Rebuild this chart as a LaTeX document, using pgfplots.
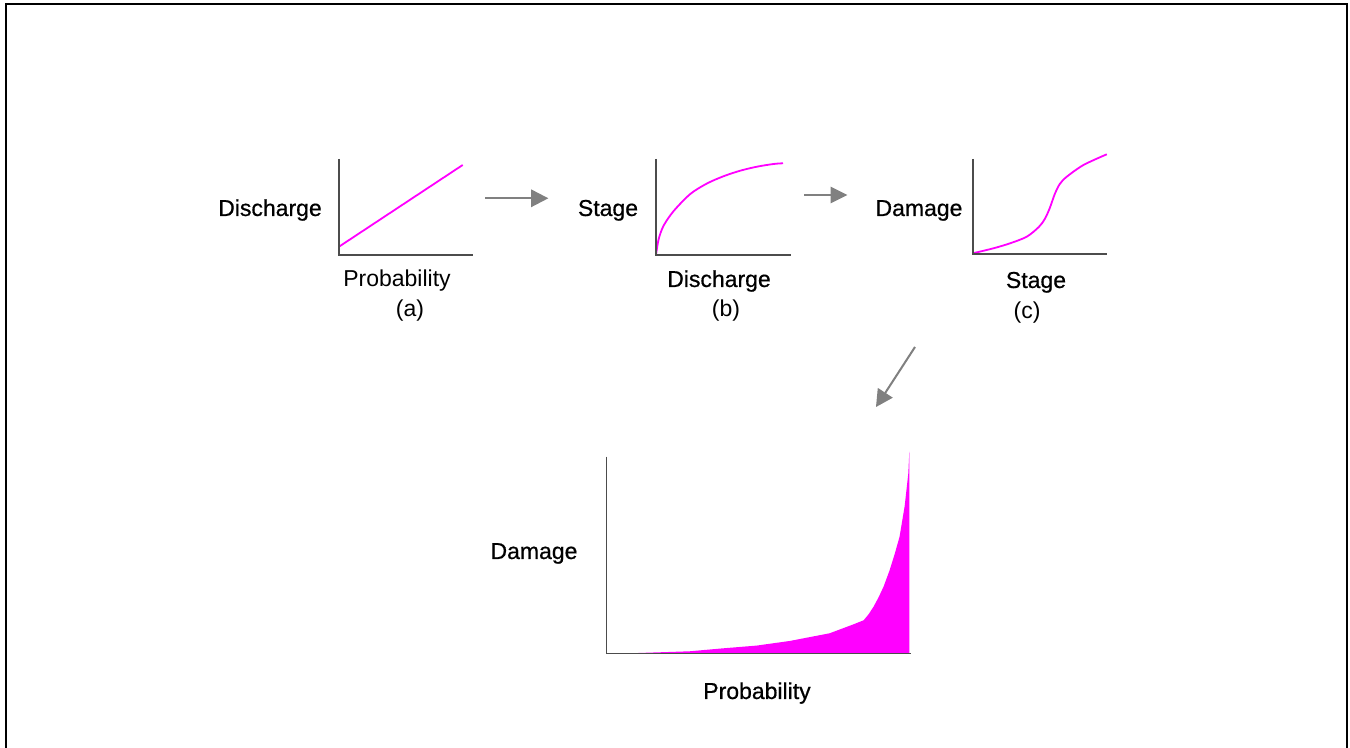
\documentclass[border=0pt]{standalone}
\usepackage{pgfplots}
\pgfplotsset{compat=1.18}
\usepackage{fontspec}
\setmainfont{Liberation Sans}
\newfontfamily\heavy[FakeBold=0.6]{Liberation Sans}
\definecolor{mag}{HTML}{FF00FF}
\definecolor{arr}{HTML}{808080}
\begin{document}
\begin{tikzpicture}[x=0.5pt,y=0.5pt,
  lab/.style={inner sep=0pt, font=\fontsize{11.5}{13}\selectfont},
  hlab/.style={inner sep=0pt, font=\heavy\fontsize{11.5}{13}\selectfont},
  axl/.style={black!70, line width=0.7pt}]
\useasboundingbox (0,0) rectangle (1350,748);
\fill[white] (0,0) rectangle (1350,748);
% frame
\draw[line width=1pt] (6,0) -- (6,744) -- (1346.5,744) -- (1346.5,0);

\pgfplotsset{mini/.style={scale only axis, hide axis, clip=false, enlargelimits=false, xmin=0, ymin=0, anchor=south west}}

% (a) Discharge vs Probability
\begin{axis}[mini, at={(169.5pt,246.5pt)}, width=67pt, height=48pt, xmax=134, ymax=96]
\addplot[mag, line width=0.9pt] coordinates {(0,8.3) (123.7,90)};
\draw[axl] (axis cs:0,96) -- (axis cs:0,0) -- (axis cs:134,0);
\end{axis}

% (b) Stage vs Discharge
\begin{axis}[mini, at={(328pt,246.5pt)}, width=67.5pt, height=48pt, xmax=135, ymax=96]
\addplot[mag, line width=0.9pt, smooth] coordinates {(0,0) (2.7,16) (7.7,29.5) (17.7,44) (34.3,61) (51,71.5) (67.7,78.8) (84.3,84.3) (101,88.3) (117.7,91) (127,91.7)};
\draw[axl] (axis cs:0,96) -- (axis cs:0,0) -- (axis cs:135,0);
\end{axis}

% (c) Damage vs Stage
\begin{axis}[mini, at={(486.4pt,247pt)}, width=67pt, height=47.5pt, xmax=134, ymax=95]
\addplot[mag, line width=0.9pt, smooth] coordinates {(0,0.7) (20.7,5.7) (37.3,10.7) (54,17.3) (66,27) (72,35) (77,46) (82,60) (87,70) (94,77.3) (110.7,89) (134,99.7)};
\draw[axl] (axis cs:0,95) -- (axis cs:0,0) -- (axis cs:134,0);
\end{axis}

% Damage vs Probability
\begin{axis}[mini, at={(303.3pt,47.35pt)}, width=152pt, height=98.3pt, xmax=304, ymax=196.6]
\addplot[fill=mag, draw=none] coordinates {(23,0) (83,2) (117,5) (150,7.7) (183,12.3) (223,20) (247,29) (257,33) (262,39) (267,46.7) (272,56) (277,66.7) (283,83) (288,99) (293,116.7) (298,146.7) (301.7,180) (302.7,201.7) (302.7,0)};
\draw[axl] (axis cs:0,196.6) -- (axis cs:0,0) -- (axis cs:304,0);
\end{axis}

% arrows
\draw[arr, line width=1pt] (485,549.7) -- (532,549.7);
\fill[arr] (531,558.7) -- (548.3,549.7) -- (531,540.7) -- cycle;
\draw[arr, line width=1pt] (804,553) -- (831,553);
\fill[arr] (830.7,561.3) -- (847.3,553) -- (830.7,544.7) -- cycle;
\draw[arr, line width=1pt] (915,401) -- (885.3,355.2);
\fill[arr] (876,341) -- (892.8,350.3) -- (877.8,360.1) -- cycle;

% labels
\node[hlab, anchor=base] at (270,532) {Discharge};
\node[lab, anchor=base] at (397,461) {Probability};
\node[lab, anchor=center] at (410,437) {(a)};
\node[hlab, anchor=base] at (608,532) {Stage};
\node[hlab, anchor=base] at (719,461) {Discharge};
\node[lab, anchor=center] at (726,437) {(b)};
\node[hlab, anchor=base] at (919,532) {Damage};
\node[hlab, anchor=base] at (1036,460) {Stage};
\node[lab, anchor=center] at (1027,435) {(c)};
\node[hlab, anchor=base] at (534,189) {Damage};
\node[hlab, anchor=base] at (757,49) {Probability};
\end{tikzpicture}
\end{document}
